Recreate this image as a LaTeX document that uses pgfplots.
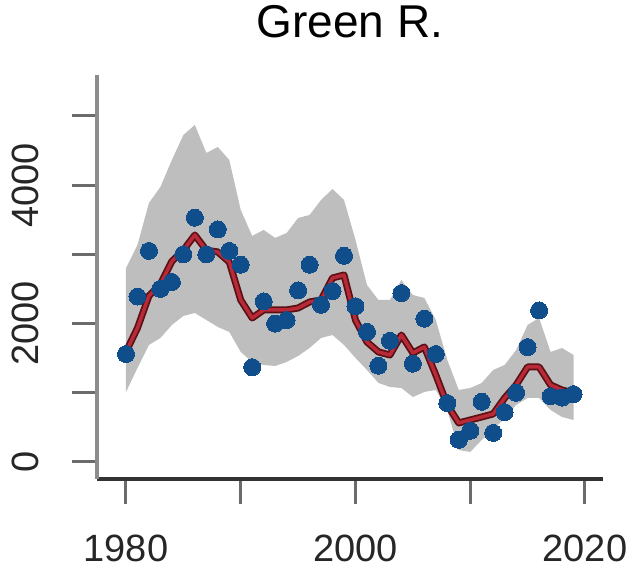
\documentclass[border=0pt]{standalone}
\usepackage{pgfplots}
\pgfplotsset{compat=1.18}
\usepackage{pgfplotstable}
\usepackage{fontspec}
\setmainfont{Liberation Sans}
\definecolor{bandgray}{HTML}{BEBEBE}
\definecolor{dotblue}{HTML}{104E8B}
\definecolor{linedark}{HTML}{5A1015}
\definecolor{linered}{HTML}{B82A38}

\pgfplotstableread{
year value
1980 1560
1981 2390
1982 3050
1983 2500
1984 2600
1985 3000
1986 3530
1987 3000
1988 3360
1989 3050
1990 2850
1991 1370
1992 2320
1993 2000
1994 2050
1995 2480
1996 2850
1997 2270
1998 2470
1999 2980
2000 2250
2001 1880
2002 1390
2003 1750
2004 2440
2005 1420
2006 2070
2007 1560
2008 850
2009 320
2010 450
2011 870
2012 420
2013 720
2014 1000
2015 1660
2016 2190
2017 950
2018 930
2019 980
}\obs

\pgfplotstableread{
year fit
1980 1590
1981 1936
1982 2400
1983 2570
1984 2900
1985 3060
1986 3280
1987 3060
1988 3035
1989 2890
1990 2340
1991 2081
1992 2197
1993 2197
1994 2197
1995 2225
1996 2312
1997 2341
1998 2659
1999 2702
2000 2050
2001 1734
2002 1590
2003 1546
2004 1835
2005 1575
2006 1662
2007 1257
2008 824
2009 564
2010 607
2011 650
2012 694
2013 925
2014 1113
2015 1373
2016 1373
2017 1113
2018 1040
2019 997
}\fit

\begin{document}
\begin{tikzpicture}
\path[use as bounding box] (-97pt,-90pt) rectangle (532pt,479pt);
\begin{axis}[
  at={(0pt,0pt)}, anchor=south west,
  scale only axis, width=506pt, height=404pt,
  xmin=1977.473, xmax=2021.57, ymin=-246, ymax=5592,
  axis x line*=bottom, axis y line*=left,
  x axis line style={-, line width=4pt, color=black!80},
  y axis line style={-, line width=4pt, color=black!45},
  xtick={1980,1990,2000,2010,2020},
  xticklabels={1980,,2000,,2020},
  ytick={0,1000,2000,3000,4000,5000},
  yticklabels={0,,2000,,4000,},
  tick align=outside, major tick length=25pt,
  tick style={line width=3pt, color=black!58},
  /pgf/number format/assume math mode=true,
  xticklabel style={font=\fontsize{38}{40}\selectfont, color=black!85, yshift=-27pt},
  yticklabel style={font=\fontsize{38}{40}\selectfont, color=black!85, rotate=90, anchor=south, yshift=30pt},
  title={Green R.},
  title style={font=\fontsize{46}{48}\selectfont, at={(0.5,1)}, anchor=base, yshift=31pt},
  clip=false,
]
\addplot[fill=bandgray, draw=none] coordinates {
(1980,2800) (1981,3136) (1982,3743) (1983,3974) (1984,4364) (1985,4725)
(1986,4870) (1987,4465) (1988,4552) (1989,4364) (1990,3642) (1991,3266)
(1992,3353) (1993,3237) (1994,3309) (1995,3526) (1996,3569) (1997,3786)
(1998,3945) (1999,3786) (2000,3208) (2001,2558) (2002,2341) (2003,2341)
(2004,2630) (2005,2413) (2006,2370) (2007,2052) (2008,1474) (2009,1040)
(2010,1069) (2011,1142) (2012,1329) (2013,1402) (2014,1618) (2015,1980)
(2016,2081) (2017,1590) (2018,1647) (2019,1546)
(2019,607) (2018,650) (2017,751) (2016,925) (2015,925) (2014,824)
(2013,636) (2012,462) (2011,318) (2010,145) (2009,173) (2008,751)
(2007,1040) (2006,1012) (2005,939) (2004,1069) (2003,1084) (2002,1142)
(2001,1329) (2000,1503) (1999,1691) (1998,1835) (1997,1792) (1996,1647)
(1995,1532) (1994,1445) (1993,1387) (1992,1402) (1991,1445) (1990,1590)
(1989,1879) (1988,1951) (1987,2052) (1986,2153) (1985,2110) (1984,1980)
(1983,1792) (1982,1691) (1981,1358) (1980,1012)
} -- cycle;
\addplot[only marks, color=dotblue, mark=*, mark size=8.5pt, mark options={fill=dotblue, draw=dotblue, line width=0pt}] table[x=year, y=value] {\obs};
\addplot[linedark, line width=7pt, line join=round, line cap=round] table[x=year, y=fit] {\fit};
\addplot[linered, line width=3.5pt, line join=round, line cap=round] table[x=year, y=fit] {\fit};
\end{axis}
\end{tikzpicture}
\end{document}
